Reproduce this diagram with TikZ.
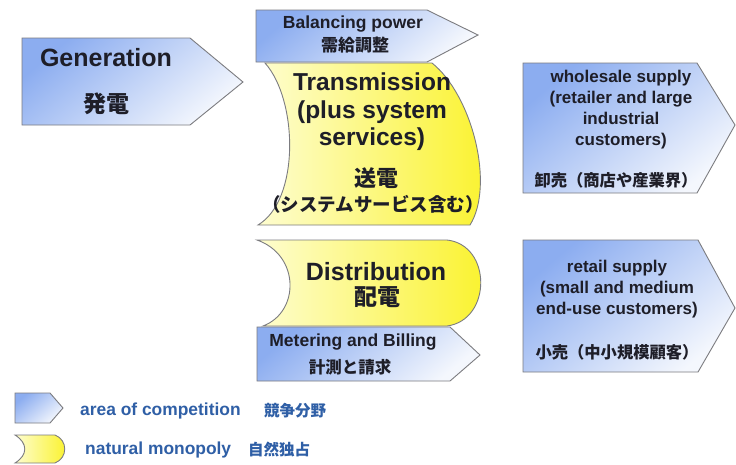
\documentclass[tikz,border=0pt]{standalone}
\usepackage{fontspec}
\setmainfont{Liberation Sans}
\newfontfamily\jp{Noto Sans CJK JP}
\definecolor{edgegray}{HTML}{7C7C80}
\definecolor{bluetop}{HTML}{8CADF0}
\definecolor{bluebot}{HTML}{F4F7FD}
\definecolor{yelleft}{HTML}{FEFDD0}
\definecolor{yelright}{HTML}{FAF22A}
\definecolor{txt}{HTML}{1E1E28}
\definecolor{legtxt}{HTML}{2F5FA6}
\begin{document}
\begin{tikzpicture}[x=1pt,y=-1pt,
  comp/.style={draw=edgegray, line width=0.9pt, top color=bluetop, bottom color=bluebot, shading angle=40},
  mono/.style={draw=edgegray, line width=0.9pt, left color=yelleft, right color=yelright},
  lbl/.style={font=\bfseries, text=txt, align=center, inner sep=0pt},
  leg/.style={font=\bfseries, text=legtxt, anchor=west, inner sep=0pt}]
\useasboundingbox (0,0) rectangle (736,464);
\fill[white] (0,0) rectangle (736,464);

% Generation
\shade[comp] (22,38) -- (190,38) -- (243,82) -- (190,125) -- (22,125) -- cycle;
\node[lbl, font=\bfseries\fontsize{25}{28}\selectfont] (gen) at (106,58) {Generation};
\node[lbl, font=\jp\bfseries\fontsize{23}{26}\selectfont] (genj) at (106,104) {発電};

% Transmission
\shade[mono] (265,63) -- (432,63) .. controls (472,95) and (495,185) .. (470,225)
   -- (258,225) .. controls (300,200) and (298,100) .. (265,63) -- cycle;
\node[lbl, font=\bfseries\fontsize{24.5}{27.5}\selectfont] (trans) at (372,112) {Transmission\\(plus system\\services)};
\node[lbl, font=\jp\bfseries\fontsize{22}{24}\selectfont] (transj) at (376,178) {送電};
\node[lbl, font=\jp\bfseries\fontsize{18.5}{20}\selectfont] (transj2) at (373,204) {（システムサービス含む）};

% Balancing power
\shade[comp] (256,10) -- (427,10) -- (478,35) -- (427,62) -- (256,62) -- cycle;
\node[lbl, font=\bfseries\fontsize{17.5}{20}\selectfont] (bal) at (353,24) {Balancing power};
\node[lbl, font=\jp\bfseries\fontsize{17}{19}\selectfont] (balj) at (355,45) {需給調整};

% Distribution
\shade[mono] (257,240) -- (447,240) .. controls (492,245) and (492,320) .. (447,326)
   -- (263,326) .. controls (300,312) and (300,255) .. (257,240) -- cycle;
\node[lbl, font=\bfseries\fontsize{25}{28}\selectfont] (dist) at (376,272) {Distribution};
\node[lbl, font=\jp\bfseries\fontsize{23}{26}\selectfont] (distj) at (377,297) {配電};

% Metering and Billing
\shade[comp] (257,327) -- (450,327) -- (480,355) -- (450,381) -- (257,381) -- cycle;
\node[lbl, font=\bfseries\fontsize{17.5}{20}\selectfont] (met) at (353,342) {Metering and Billing};
\node[lbl, font=\jp\bfseries\fontsize{16.5}{19}\selectfont] (metj) at (350,367) {計測と請求};

% Wholesale supply
\shade[comp] (523,63) -- (697,63) -- (735,125) -- (697,193) -- (523,193) -- cycle;
\node[lbl, font=\bfseries\fontsize{17}{21}\selectfont] (whole) at (621,110) {wholesale supply\\(retailer and large\\industrial\\customers)};
\node[lbl, font=\jp\bfseries\fontsize{16.3}{19}\selectfont] (wholej) at (616,180) {卸売（商店や産業界）};

% Retail supply
\shade[comp] (523,240) -- (698,240) -- (735,308) -- (698,372) -- (523,372) -- cycle;
\node[lbl, font=\bfseries\fontsize{17}{21}\selectfont] (ret) at (617,289) {retail supply\\(small and medium\\end-use customers)};
\node[lbl, font=\jp\bfseries\fontsize{16.3}{19}\selectfont] (retj) at (617,352) {小売（中小規模顧客）};

% Legend
\shade[comp] (15,393) -- (50,393) -- (63,408) -- (50,423) -- (15,423) -- cycle;
\node[leg, font=\bfseries\fontsize{17.4}{19}\selectfont] (legc) at (80,411) {area of competition};
\node[leg, font=\jp\bfseries\fontsize{15.5}{18}\selectfont] (legcj) at (264,411) {競争分野};
\shade[mono] (15,435) -- (55,435) .. controls (68,440) and (68,458) .. (55,463)
   -- (15,463) .. controls (28,455) and (28,443) .. (15,435) -- cycle;
\node[leg, font=\bfseries\fontsize{17.4}{19}\selectfont] (legm) at (85,450) {natural monopoly};
\node[leg, font=\jp\bfseries\fontsize{15.5}{18}\selectfont] (legmj) at (248,450) {自然独占};
\end{tikzpicture}
\end{document}
